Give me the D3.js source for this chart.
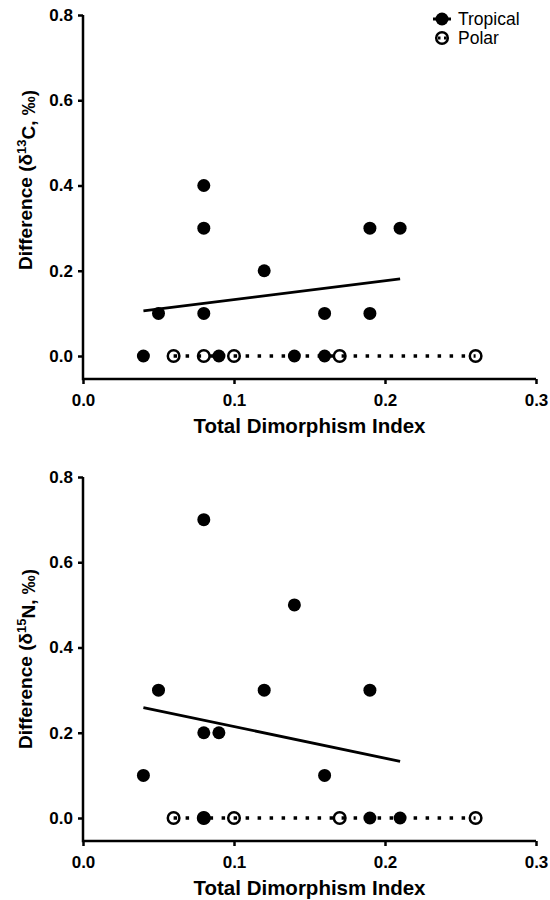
<!DOCTYPE html>
<html>
<head>
<meta charset="utf-8">
<script src="https://cdn.jsdelivr.net/npm/d3@7"></script>
<style>
  body { margin: 0; background: #fff; }
  text { font-family: "Liberation Sans", Arial, Helvetica, sans-serif; fill: #000; }
</style>
</head>
<body>
<div id="chart"></div>
<script>
// values
var xTicks = [0, 0.1, 0.2, 0.3];
var yTicks = [0, 0.2, 0.4, 0.6, 0.8];

var carbonTropicalX = [0.04, 0.05, 0.08, 0.08, 0.08, 0.09, 0.12, 0.14, 0.16, 0.16, 0.19, 0.19, 0.21];
var carbonTropicalY = [0, 0.1, 0.4, 0.3, 0.1, 0, 0.2, 0, 0.1, 0, 0.3, 0.1, 0.3];
var carbonPolarX = [0.06, 0.08, 0.10, 0.17, 0.26];
var carbonPolarY = [0, 0, 0, 0, 0];

var nitrogenTropicalX = [0.04, 0.05, 0.08, 0.08, 0.08, 0.09, 0.12, 0.14, 0.16, 0.19, 0.19, 0.21];
var nitrogenTropicalY = [0.1, 0.3, 0.7, 0.2, 0, 0.2, 0.3, 0.5, 0.1, 0.3, 0, 0];
var nitrogenPolarX = [0.06, 0.08, 0.10, 0.17, 0.26];
var nitrogenPolarY = [0, 0, 0, 0, 0];

// fitted lines (ends)
var tropicalFitX = [0.04, 0.21];
var carbonTropicalFitY = [0.106, 0.181];
var nitrogenTropicalFitY = [0.259, 0.133];
var polarFitX = [0.06, 0.26];
var polarFitY = [0, 0];

var width = 550, height = 900;

var svg = d3.select("#chart").append("svg")
  .attr("width", width)
  .attr("height", height);

var x = d3.scaleLinear().domain([0, 0.3]).range([83, 536]);

var line = d3.line()
  .x(function(d) { return x(d[0]); })
  .y(function(d) { return d[1]; });

function drawPanel(top, iso, titleMid, tropX, tropY, polX, polY, fitY) {
  var y = d3.scaleLinear().domain([0, 0.8]).range([top + 341, top]);
  var axisY = top + 364;
  var g = svg.append("g");

  // axes
  g.append("g")
    .attr("transform", "translate(0," + axisY + ")")
    .call(d3.axisBottom(x).tickValues(xTicks).tickFormat(d3.format(".1f"))
      .tickSize(5).tickSizeOuter(0).tickPadding(10));
  g.append("g")
    .attr("transform", "translate(83,0)")
    .call(d3.axisLeft(y).tickValues(yTicks).tickFormat(d3.format(".1f"))
      .tickSize(5).tickSizeOuter(0).tickPadding(5));
  g.selectAll(".domain").remove();
  g.selectAll(".tick line").attr("stroke", "#000").attr("stroke-width", 2.5);
  g.selectAll(".tick text")
    .style("font-size", "17px").style("font-weight", "bold")
    .style("font-family", "'Liberation Sans', Arial, sans-serif");

  g.append("path")
    .attr("d", "M" + x(0) + "," + y(0.8) + "V" + axisY + "H" + x(0.3))
    .attr("fill", "none")
    .attr("stroke", "#000")
    .attr("stroke-width", 2.5);

  // axis titles
  g.append("text")
    .attr("x", (x(0) + x(0.3)) / 2)
    .attr("y", axisY + 54)
    .attr("text-anchor", "middle")
    .style("font-size", "20.5px")
    .style("font-weight", "bold")
    .text("Total Dimorphism Index");

  var yt = g.append("text")
    .attr("transform", "translate(32," + titleMid + ") rotate(-90)")
    .attr("text-anchor", "middle")
    .style("font-size", "19px")
    .style("font-weight", "bold");
  yt.append("tspan").text("Difference (\u03B4");
  yt.append("tspan").attr("dy", "-0.45em").style("font-size", "13px").text(iso[0]);
  yt.append("tspan").attr("dy", "0.45em").text(iso[1] + ", \u2030)");

  // polar
  var polar = d3.zip(polX, polY);
  g.selectAll(".polar").data(polar).enter().append("circle")
    .attr("class", "polar")
    .attr("cx", function(d) { return x(d[0]); })
    .attr("cy", function(d) { return y(d[1]); })
    .attr("r", 5.8)
    .attr("fill", "none")
    .attr("stroke", "#000")
    .attr("stroke-width", 2.5);

  g.append("path")
    .attr("d", line(d3.zip(polarFitX, polarFitY.map(function(v) { return y(v); }))))
    .attr("fill", "none")
    .attr("stroke", "#000")
    .attr("stroke-width", 3.5)
    .attr("stroke-dasharray", "3.5,8.5");

  // tropical
  var trop = d3.zip(tropX, tropY);
  g.selectAll(".trop").data(trop).enter().append("circle")
    .attr("class", "trop")
    .attr("cx", function(d) { return x(d[0]); })
    .attr("cy", function(d) { return y(d[1]); })
    .attr("r", 6.5)
    .attr("fill", "#000");

  g.append("path")
    .attr("d", line(d3.zip(tropicalFitX, fitY.map(function(v) { return y(v); }))))
    .attr("fill", "none")
    .attr("stroke", "#000")
    .attr("stroke-width", 2.8);
}

drawPanel(15, ["13", "C"], 180, carbonTropicalX, carbonTropicalY, carbonPolarX, carbonPolarY, carbonTropicalFitY);
drawPanel(477, ["15", "N"], 659, nitrogenTropicalX, nitrogenTropicalY, nitrogenPolarX, nitrogenPolarY, nitrogenTropicalFitY);

// legend
var legend = svg.append("g");
legend.append("line")
  .attr("x1", 433).attr("x2", 451).attr("y1", 19).attr("y2", 19)
  .attr("stroke", "#000").attr("stroke-width", 3);
legend.append("circle")
  .attr("cx", 442).attr("cy", 19).attr("r", 6.5).attr("fill", "#000");
legend.append("text")
  .attr("x", 458).attr("y", 25)
  .style("font-size", "17.5px")
  .text("Tropical");

legend.append("circle")
  .attr("cx", 442).attr("cy", 38).attr("r", 5.8)
  .attr("fill", "none").attr("stroke", "#000").attr("stroke-width", 2.5);
legend.append("line")
  .attr("x1", 438).attr("x2", 447).attr("y1", 38).attr("y2", 38)
  .attr("stroke", "#000").attr("stroke-width", 3).attr("stroke-dasharray", "2.5,3.5");
legend.append("text")
  .attr("x", 458).attr("y", 44)
  .style("font-size", "17.5px")
  .text("Polar");
</script>
</body>
</html>
